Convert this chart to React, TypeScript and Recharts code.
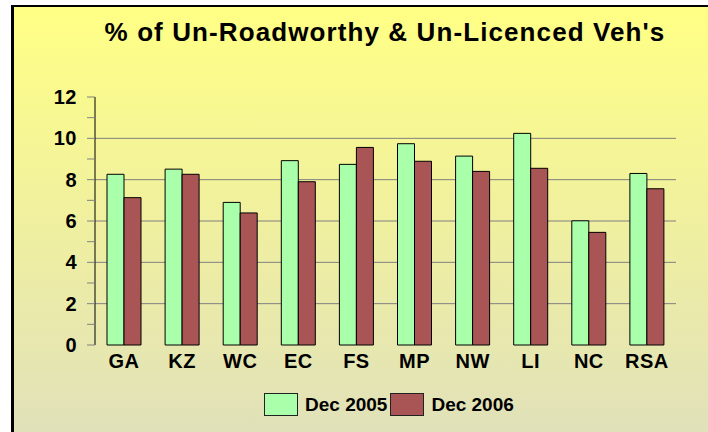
import { Bar, BarChart, CartesianGrid, XAxis, YAxis } from "recharts";

// Provinces + national total
const regions = ["GA", "KZ", "WC", "EC", "FS", "MP", "NW", "LI", "NC", "RSA"];
// % of un-roadworthy & un-licenced vehicles
const dec2005 = [8.26, 8.51, 6.9, 8.92, 8.74, 9.74, 9.14, 10.24, 6.01, 8.3];
const dec2006 = [7.13, 8.26, 6.39, 7.9, 9.56, 8.89, 8.4, 8.55, 5.45, 7.56];

const seriesNames = ["Dec 2005", "Dec 2006"];
const seriesColors = ["#AAFFAA", "#AA5555"];

const yTicks = [0, 1, 2, 3, 4, 5, 6, 7, 8, 9, 10, 11, 12];
const gridValues = [2, 4, 6, 8, 10];
// band edges between categories (for the little x-axis ticks)
const bandEdges = [0, 1, 2, 3, 4, 5, 6, 7, 8, 9, 10];

const FONT = "'Liberation Sans', Arial, sans-serif";

const data = regions.map((r, i) => ({ region: r, d2005: dec2005[i], d2006: dec2006[i] }));

export default function App() {
  return (
    <div style={{ position: "fixed", left: 0, top: 0, width: 708, height: 432, overflow: "hidden", background: "#fff", fontFamily: FONT }}>
      {/* chart frame: only left/top edge visible */}
      <div
        style={{
          position: "absolute",
          left: 11,
          top: 5,
          width: 720,
          height: 450,
          borderLeft: "3px solid #000",
          borderTop: "2px solid #000",
          background: "linear-gradient(#FFFF85, #DFDFBD)",
        }}
      />
      <div
        style={{
          position: "absolute",
          left: 0,
          width: 770,
          top: 17,
          textAlign: "center",
          fontSize: 26,
          fontWeight: "bold",
          letterSpacing: 1.1,
          color: "#000",
        }}
      >
        % of Un-Roadworthy &amp; Un-Licenced Veh's
      </div>

      <div style={{ position: "absolute", left: 0, top: 0 }}>
        <BarChart
          width={708}
          height={432}
          data={data}
          margin={{ top: 97, right: 32, bottom: 57, left: 0 }}
          barGap={0}
          barSize={17}
        >
          <CartesianGrid vertical={false} horizontalValues={gridValues} stroke="#808080" />
          <XAxis
            xAxisId="edges"
            type="number"
            domain={[0, 10]}
            ticks={bandEdges}
            interval={0}
            height={0}
            tick={false}
            tickSize={4}
            tickLine={{ stroke: "#808080" }}
            axisLine={{ stroke: "#808080" }}
          />
          <XAxis
            dataKey="region"
            xAxisId="cat"
            height={30}
            tickLine={false}
            axisLine={false}
            tickSize={0}
            tickMargin={9}
            interval={0}
            tick={{ fill: "#000", fontSize: 20, fontWeight: "bold", fontFamily: FONT, letterSpacing: 0.5 }}
          />
          <XAxis xAxisId="top" dataKey="region" orientation="top" height={0} tick={false} tickLine={false} axisLine={{ stroke: "#333" }} />
          <YAxis
            domain={[0, 12]}
            ticks={yTicks}
            interval={0}
            width={95}
            tickSize={8}
            tickMargin={10}
            tickLine={{ stroke: "#808080" }}
            axisLine={{ stroke: "#000" }}
            tickFormatter={(v: number) => (v % 2 === 0 ? String(v) : "")}
            tick={{ fill: "#000", fontSize: 20, fontWeight: "bold", fontFamily: FONT, letterSpacing: 0.5 }}
          />
          <YAxis yAxisId="right" orientation="right" width={0} domain={[0, 12]} tick={false} tickLine={false} axisLine={{ stroke: "#333" }} />
          <Bar xAxisId="cat" dataKey="d2005" name={seriesNames[0]} fill={seriesColors[0]} stroke="#000" strokeWidth={1} isAnimationActive={false} />
          <Bar xAxisId="cat" dataKey="d2006" name={seriesNames[1]} fill={seriesColors[1]} stroke="#000" strokeWidth={1} isAnimationActive={false} />
        </BarChart>
      </div>

      {/* legend */}
      <div style={{ position: "absolute", left: 264, top: 393, display: "flex", alignItems: "center" }}>
        {seriesNames.map((name, i) => (
          <div key={name} style={{ display: "flex", alignItems: "center" }}>
            <span
              style={{
                display: "inline-block",
                width: 32,
                height: 21,
                background: seriesColors[i],
                border: "1px solid #222",
                marginRight: 7,
              }}
            />
            <span style={{ fontSize: 19, fontWeight: "bold", color: "#000", marginRight: 3 }}>{name}</span>
          </div>
        ))}
      </div>
    </div>
  );
}
